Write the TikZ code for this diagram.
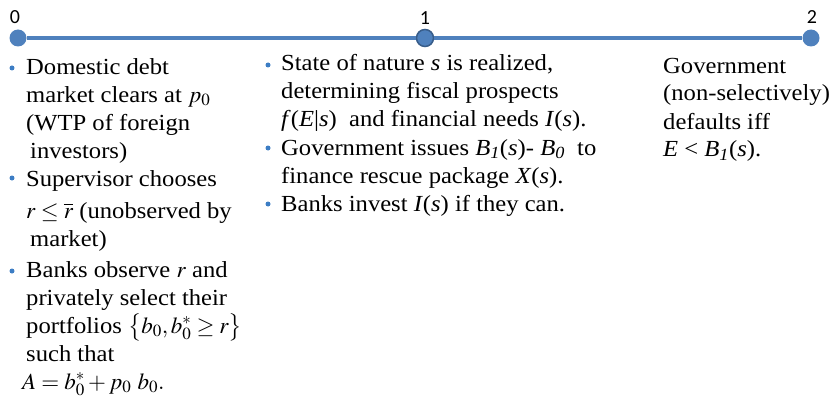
\documentclass[tikz,border=0pt]{standalone}
\usepackage{amsmath}
\usepackage{mathptmx}
\usepackage{fontspec}
\setmainfont{Liberation Serif}[FakeStretch=1.07]
\newfontfamily\tickfont{Carlito}
\definecolor{lineblue}{HTML}{4F81BD}
\definecolor{rimblue}{HTML}{385D8A}
\definecolor{dotblue}{HTML}{3C7DC4}
\usetikzlibrary{positioning}
\begin{document}
\setlength{\lineskiplimit}{-100pt}
\begin{tikzpicture}[
				x=1pt, y=-1pt,
				tick/.style={circle, fill=lineblue, minimum size=17pt, inner sep=0pt},
				ticklabel/.style={inner sep=0pt, font=\tickfont\fontsize{20}{24}\selectfont},
				item/.style={align=left, inner sep=0pt, anchor=base west, font=\fontsize{23}{28}\selectfont},
				dot/.style={circle, fill=dotblue, minimum size=5pt, inner sep=0pt}
				]
				\useasboundingbox (0,0) rectangle (831,396);
				
				% Trục thời gian
				\node[tick] (t0) at (18,38) {};
				\node[tick, draw=rimblue, line width=1.5pt] (t1) at (425,38) {};
				\node[tick] (t2) at (811,38) {};
				\draw[lineblue, line width=4pt] (t0) -- (t1) -- (t2);
				\node[ticklabel] (l0) at (15,17) {0};
				\node[ticklabel] (l1) at (425,18) {1};
				\node[ticklabel] (l2) at (812,17) {2};
				
				% Cột thời điểm 0
				\begin{scope}[xshift=0pt]
					\node[dot] (d01) at (12,68) {};
					\node[item] (dom) at (26,158) {Domestic debt\\market clears at $p_0$\\(WTP of foreign\\\hspace{4pt}investors)};
					\node[dot] (d02) at (12,178) {};
					\node[item] (sup) at (26,246) {Supervisor chooses\\[4pt]$r \le \overline{r}$ (unobserved by\\\hspace{4pt}market)};
					\node[dot] (d03) at (12,271) {};
					\node[item] (bnk) at (26,389) {Banks observe $r$ and\\privately select their\\portfolios $\left\{b_0, b_0^{*} \ge r\right\}$\\such that\\\hspace{-4pt}$A = b_0^{*} + p_0\ b_0.$};
				\end{scope}
				
				% Cột thời điểm 1
				\begin{scope}[xshift=255pt]
					\node[dot] (d11) at (13,65) {};
					\node[item] (nat) at (26,127) {State of nature \textit{s} is realized,\\determining fiscal prospects\\\textit{f}(\textit{E}|\textit{s})\ \ and financial needs \textit{I}(\textit{s}).};
					\node[dot] (d12) at (13,148) {};
					\node[item] (gov) at (26,183) {Government issues \textit{B}$_{\textit{1}}$(\textit{s})- \textit{B}$_{\textit{0}}$\ \ to\\finance rescue package \textit{X}(\textit{s}).};
					\node[dot] (d13) at (13,204) {};
					\node[item] (inv) at (26,211) {Banks invest \textit{I}(\textit{s}) if they can.};
				\end{scope}
				
				% Cột thời điểm 2
				\begin{scope}[xshift=637pt]
					\node[item] (def) at (26,157) {Government\\(non-selectively)\\defaults iff\\\textit{E} < \textit{B}$_{\textit{1}}$(\textit{s}).};
				\end{scope}
				
			\end{tikzpicture}
\end{document}
